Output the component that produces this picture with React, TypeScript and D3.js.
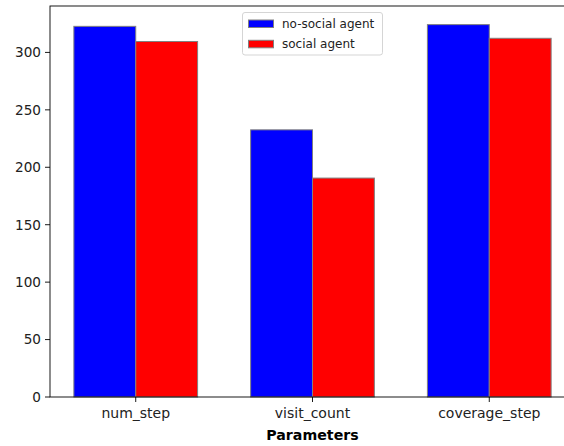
import React from "react";
import * as d3 from "d3";

const categories = ["num_step", "visit_count", "coverage_step"];
const noSocial = [322.7, 232.6, 324.2];
const social = [309.5, 190.6, 312.3];
const yTicks = [0, 50, 100, 150, 200, 250, 300];
const seriesNames = ["no-social agent", "social agent"];
const seriesColors = ["#0000ff", "#ff0000"];

export default function App() {
  const W = 564, H = 446;
  const left = 50, top = 6, bottom = 397, right = 575;
  const barW = 0.35;
  const allMax = d3.max([...noSocial, ...social]) as number;
  const xMinData = -barW / 2, xMaxData = categories.length - 1 + barW * 1.5;
  const xPad = (xMaxData - xMinData) * 0.05;
  const x = d3.scaleLinear().domain([xMinData - xPad, xMaxData + xPad]).range([left, right]);
  const y = d3.scaleLinear().domain([0, allMax * 1.05]).range([bottom, top]);
  const series = [noSocial, social];
  const font = "DejaVu Sans, sans-serif";
  return (
    <svg width={W} height={H} style={{ position: "absolute", left: 0, top: 0, background: "#fff" }} fontFamily={font}>
      {series.map((vals, s) =>
        vals.map((v, i) => {
          const x0 = x(i + s * barW - barW / 2);
          const x1 = x(i + s * barW + barW / 2);
          return (
            <rect key={`${s}-${i}`} x={x0} y={y(v)} width={x1 - x0} height={y(0) - y(v)}
              fill={seriesColors[s]} stroke="#808080" strokeWidth={1} />
          );
        })
      )}
      <rect x={left} y={top} width={right - left} height={bottom - top} fill="none" stroke="#000" strokeWidth={0.9} />
      {yTicks.map((t) => (
        <g key={t}>
          <line x1={left - 5} x2={left} y1={y(t)} y2={y(t)} stroke="#000" strokeWidth={0.9} />
          <text x={left - 9} y={y(t)} dy="0.36em" textAnchor="end" fontSize={13.6} fill="#222">{t}</text>
        </g>
      ))}
      {categories.map((c, i) => {
        const cx = x(i + barW / 2);
        return (
          <g key={c}>
            <line x1={cx} x2={cx} y1={bottom} y2={bottom + 5} stroke="#000" strokeWidth={0.9} />
            <text x={cx} y={bottom + 21} textAnchor="middle" fontSize={14} fill="#222">{c}</text>
          </g>
        );
      })}
      <text x={x((xMinData + xMaxData) / 2)} y={440} textAnchor="middle" fontSize={14.2} fontWeight="bold" fill="#000">Parameters</text>
      <g>
        <rect x={242.5} y={12.5} width={140} height={42.5} rx={2.5} fill="#fff" fillOpacity={0.8} stroke="#d5d5d5" strokeWidth={1} />
        {seriesNames.map((n, k) => (
          <g key={n}>
            <rect x={248.5} y={20 + k * 20.3} width={25} height={7.5} fill={seriesColors[k]} stroke="#808080" strokeWidth={1} />
            <text x={282} y={28 + k * 20.3} fontSize={12} fill="#222">{n}</text>
          </g>
        ))}
      </g>
    </svg>
  );
}
